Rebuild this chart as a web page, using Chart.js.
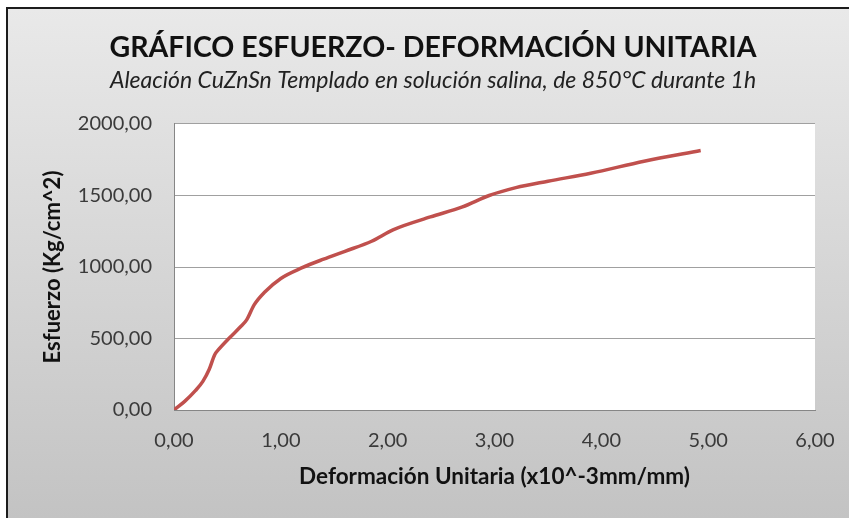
<!DOCTYPE html>
<html>
<head>
<meta charset="utf-8">
<script src="https://cdn.jsdelivr.net/npm/chart.js@4"></script>
<style>
  body { margin: 0; background: #ffffff; }
  #frame {
    position: absolute; left: 6px; top: 7px; right: 0; bottom: 0;
    border-left: 2px solid #1c1c1c; border-top: 2px solid #1c1c1c;
    background: linear-gradient(to bottom, #e9e9e9, #c3c3c3);
  }
  #wrap { position: absolute; left: 0; top: 0; width: 849px; height: 518px; }
</style>
</head>
<body>
<div id="frame"></div>
<div id="wrap"><canvas id="myChart" width="849" height="518"></canvas></div>
<script>
// Ensayo de tracción: deformación unitaria (x10^-3 mm/mm) y esfuerzo (Kg/cm^2)
var strain = [0, 0.10, 0.20, 0.27, 0.33, 0.38, 0.42, 0.52, 0.62, 0.68, 0.75, 0.85,
              1.00, 1.20, 1.40, 1.60, 1.85, 2.05, 2.40, 2.70, 2.95, 3.20, 3.50, 3.90, 4.40, 4.93];
var stress = [0, 60, 135, 200, 285, 385, 425, 505, 580, 630, 735, 825,
              920, 995, 1055, 1110, 1180, 1260, 1350, 1420, 1500, 1555, 1600, 1655, 1740, 1815];

var xTicks = [0, 1, 2, 3, 4, 5, 6];
var yTicks = [0, 500, 1000, 1500, 2000];

var points = strain.map(function (d, i) {
  return { x: d, y: stress[i] };
});

function comma(v) {
  return v.toFixed(2).replace('.', ',');
}

// fondo blanco del área de trazado
var plotBackground = {
  id: 'plotBackground',
  beforeDraw: function (chart) {
    var a = chart.chartArea;
    var ctx = chart.ctx;
    ctx.save();
    ctx.fillStyle = '#ffffff';
    ctx.fillRect(a.left, a.top, a.right - a.left, a.bottom - a.top);
    ctx.restore();
  }
};

var font = "Lato, 'Liberation Sans', sans-serif";

var chart = new Chart("myChart", {
  type: "line",
  data: {
    datasets: [{
      label: 'Esfuerzo',
      data: points,
      borderColor: "#C0504D",
      borderWidth: 3.5,
      pointRadius: 0,
      fill: false,
      cubicInterpolationMode: 'monotone'
    }]
  },
  plugins: [plotBackground],
  options: {
    responsive: false,
    animation: false,
    layout: {
      padding: { left: 46, right: 29, top: 0, bottom: 0 }
    },
    plugins: {
      legend: { display: false },
      tooltip: { enabled: false },
      title: {
        display: true,
        text: 'GRÁFICO ESFUERZO- DEFORMACIÓN UNITARIA',
        color: '#111111',
        font: { family: font, size: 28.5, weight: 'bold', lineHeight: 1.2 },
        padding: { top: 31, bottom: 0 }
      },
      subtitle: {
        display: true,
        text: 'Aleación CuZnSn Templado en solución salina, de 850°C durante 1h',
        color: '#222222',
        font: { family: font, size: 23, style: 'italic', lineHeight: 1.2 },
        padding: { top: 1.5, bottom: 29.7 }
      }
    },
    scales: {
      x: {
        type: 'linear',
        min: 0,
        max: 6,
        afterBuildTicks: function (scale) {
          scale.ticks = xTicks.map(function (v) { return { value: v }; });
        },
        afterFit: function (scale) {
          scale.height = 108;
          scale.paddingRight = 34;
        },
        grid: { display: false, drawTicks: false },
        border: { display: true, color: '#868686', width: 1 },
        ticks: {
          padding: 19,
          color: '#3a3a3a',
          font: { family: font, size: 20 },
          maxRotation: 0,
          callback: function (v) { return comma(v); }
        },
        title: {
          display: true,
          text: 'Deformación Unitaria (x10^-3mm/mm)',
          color: '#111111',
          font: { family: font, size: 22.5, weight: 'bold', lineHeight: 1.2 },
          padding: { top: 0, bottom: 27.5 }
        }
      },
      y: {
        min: 0,
        max: 2000,
        afterBuildTicks: function (scale) {
          scale.ticks = yTicks.map(function (v) { return { value: v }; });
        },
        afterFit: function (scale) { scale.width = 128; },
        grid: { color: '#a0a0a0', lineWidth: 1, drawTicks: false },
        border: { display: true, color: '#868686', width: 1 },
        ticks: {
          padding: 22,
          color: '#3a3a3a',
          font: { family: font, size: 20 },
          callback: function (v) { return comma(v); }
        },
        title: {
          display: true,
          text: 'Esfuerzo (Kg/cm^2)',
          color: '#111111',
          font: { family: font, size: 22, weight: 'bold', lineHeight: 0.6 },
          padding: { top: 0.4, bottom: 0 }
        }
      }
    }
  }
});
</script>
</body>
</html>
